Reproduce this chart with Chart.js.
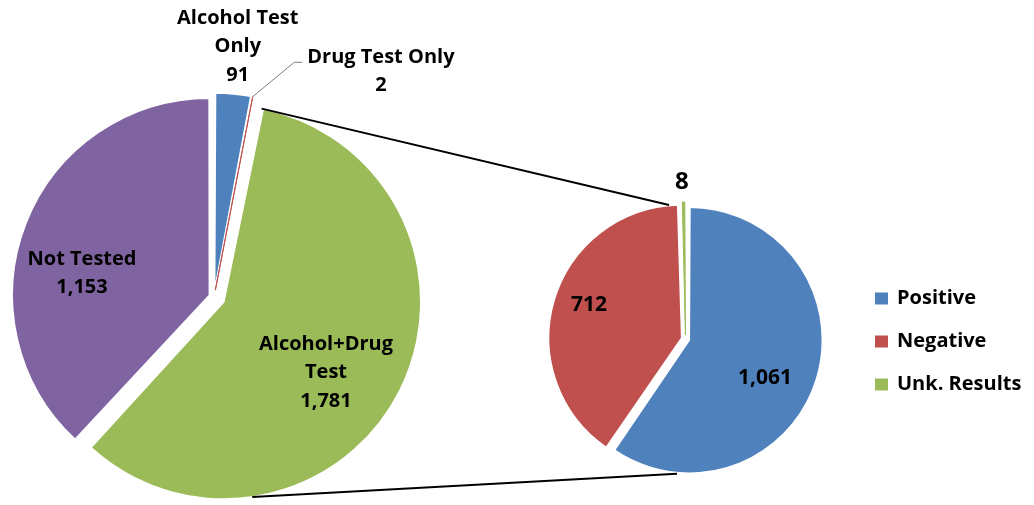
<!DOCTYPE html>
<html>
<head>
<meta charset="utf-8">
<script src="https://cdn.jsdelivr.net/npm/chart.js@4.4.1/dist/chart.umd.min.js"></script>
<style>
    html, body { margin: 0; padding: 0; background: #fff; }
    #wrap { position: relative; width: 1034px; height: 505px; }
    #wrap canvas { position: absolute; left: 0; top: 0; }
</style>
</head>
<body>
<div id="wrap">
    <canvas id="main-pie" width="1034" height="505"></canvas>
    <canvas id="sub-pie" width="1034" height="505"></canvas>
</div>
<script>
// ---- data ----
const mainLabels = ['Alcohol Test Only', 'Drug Test Only', 'Alcohol+Drug Test', 'Not Tested'];
const mainValues = [91, 2, 1781, 1153];
const subLabels  = ['Positive', 'Negative', 'Unk. Results'];
const subValues  = [1061, 712, 8];

// ---- style ----
const mainColors  = ['#4f81bd', '#c0504d', '#9bbb59', '#8064a2'];
const subColors   = ['#4f81bd', '#c0504d', '#9bbb59'];
const mainExplode = [7, 7, 11, 5];   // px the slice is pulled out
const subExplode  = [4, 4, 4];
const MAIN_R = 197, SUB_R = 133;
const FONT_FAMILY = '"Open Sans", "Noto Sans", sans-serif';
const FONT = 'bold 20px ' + FONT_FAMILY;
const LINE_H = 28.5;

// chart.js grows the radius of an offset arc, undo that so every slice keeps the same size
const explodeFix = {
    id: 'explodeFix',
    afterDatasetUpdate(chart, args, opts) {
        args.meta.data.forEach((arc, i) => {
            const e = opts.px[i] || 0;
            const fix = 1 - Math.sin(Math.min(Math.PI, arc.circumference));
            arc.outerRadius = opts.radius - e * fix;
        });
    }
};

function wrapText(ctx, text, maxW) {
    const words = text.split(' ');
    const lines = [];
    let cur = '';
    words.forEach(w => {
        const test = cur ? cur + ' ' + w : w;
        if (cur && ctx.measureText(test).width > maxW) { lines.push(cur); cur = w; }
        else cur = test;
    });
    if (cur) lines.push(cur);
    return lines;
}

function sliceCenter(arc, e) {
    const mid = (arc.startAngle + arc.endAngle) / 2;
    return { x: arc.x + Math.cos(mid) * e, y: arc.y + Math.sin(mid) * e, mid };
}

const sliceLabels = {
    id: 'sliceLabels',
    afterDraw(chart, args, opts) {
        const ctx = chart.ctx;
        const arcs = chart.getDatasetMeta(0).data;
        const values = chart.data.datasets[0].data;
        ctx.save();
        ctx.fillStyle = '#000';
        ctx.textAlign = 'center';
        ctx.textBaseline = 'middle';
        opts.items.forEach(it => {
            ctx.font = 'bold ' + (it.size || 20) + 'px ' + FONT_FAMILY;
            const arc = arcs[it.index];
            const c = sliceCenter(arc, opts.px[it.index]);
            const a = c.mid + it.turn * Math.PI / 180;
            const d = opts.radius * it.frac;
            const px = c.x + Math.cos(a) * d, py = c.y + Math.sin(a) * d;
            const lines = it.wrap ? wrapText(ctx, chart.data.labels[it.index], it.wrap) : [];
            lines.push(Number(values[it.index]).toLocaleString('en-US'));
            const top = py - (lines.length - 1) * LINE_H / 2;
            lines.forEach((t, k) => ctx.fillText(t, px, top + k * LINE_H));
            if (it.leader) {
                const w = Math.max(...lines.map(t => ctx.measureText(t).width));
                const endX = px - w / 2 - 5, endY = top + 5;
                ctx.beginPath();
                ctx.strokeStyle = '#7f7f7f';
                ctx.lineWidth = 1;
                ctx.moveTo(c.x + Math.cos(c.mid) * opts.radius, c.y + Math.sin(c.mid) * opts.radius);
                ctx.lineTo(endX - 8, endY);
                ctx.lineTo(endX, endY);
                ctx.stroke();
            }
        });
        ctx.restore();
    }
};

// connector lines between the exploded slice and the second pie + legend
const pieLinks = {
    id: 'pieLinks',
    afterDraw(chart, args, opts) {
        const ctx = chart.ctx;
        const sub = chart.getDatasetMeta(0).data[0];
        const src = opts.source.getDatasetMeta(0).data[opts.sourceIndex];
        const c = sliceCenter(src, opts.sourceExplode);
        const R = opts.sourceRadius;
        const rr = SUB_R + 2;
        const ta = opts.topAngle * Math.PI / 180, ba = opts.bottomAngle * Math.PI / 180;
        const top = { x: sub.x + Math.cos(ta) * rr, y: sub.y + Math.sin(ta) * rr };
        const bot = { x: sub.x + Math.cos(ba) * rr, y: sub.y + Math.sin(ba) * rr };
        const start = { x: c.x + Math.cos(src.startAngle) * R, y: c.y + Math.sin(src.startAngle) * R };
        const sb = opts.sourceBottomAngle * Math.PI / 180;
        const low = { x: c.x + Math.cos(sb) * R, y: c.y + Math.sin(sb) * R };

        ctx.save();
        ctx.strokeStyle = '#000';
        ctx.lineWidth = 2;
        ctx.beginPath();
        ctx.moveTo(start.x, start.y); ctx.lineTo(top.x, top.y);
        ctx.moveTo(low.x, low.y); ctx.lineTo(bot.x, bot.y);
        ctx.stroke();

        // legend
        ctx.font = FONT;
        ctx.textAlign = 'left';
        ctx.textBaseline = 'middle';
        chart.data.labels.forEach((lab, i) => {
            const y = opts.legendY + i * opts.legendGap;
            ctx.fillStyle = chart.data.datasets[0].backgroundColor[i];
            ctx.fillRect(opts.legendX, y - 6, 13, 12);
            ctx.fillStyle = '#000';
            ctx.fillText(lab, opts.legendX + 22, y);
        });
        ctx.restore();
    }
};

const mainChart = new Chart(document.getElementById('main-pie'), {
    type: 'pie',
    data: {
        labels: mainLabels,
        datasets: [{
            data: mainValues,
            backgroundColor: mainColors,
            borderColor: ['#fff', '#c0504d', '#fff', '#fff'],
            borderWidth: [1.5, 1, 1.5, 1.5],
            offset: mainExplode.map(v => v * 4),
            hoverOffset: 0,
            radius: MAIN_R
        }]
    },
    options: {
        responsive: false,
        animation: false,
        events: [],
        radius: MAIN_R,
        layout: { padding: { left: 0, right: 606, top: 89, bottom: 0 } },
        plugins: {
            legend: { display: false },
            tooltip: { enabled: false },
            explodeFix: { px: mainExplode, radius: MAIN_R },
            sliceLabels: {
                px: mainExplode, radius: MAIN_R,
                items: [
                    { index: 0, frac: 1.242, turn: 0,     wrap: 130 },
                    { index: 1, frac: 1.392, turn: 26.2,  wrap: 170, leader: true },
                    { index: 2, frac: 0.63,  turn: 7.6,   wrap: 125 },
                    { index: 3, frac: 0.656, turn: -11.6, wrap: 130 }
                ]
            }
        }
    },
    plugins: [explodeFix, sliceLabels]
});

const subChart = new Chart(document.getElementById('sub-pie'), {
    type: 'pie',
    data: {
        labels: subLabels,
        datasets: [{
            data: subValues,
            backgroundColor: subColors,
            borderColor: ['#fff', '#fff', '#9bbb59'],
            borderWidth: [1.5, 1.5, 1],
            offset: subExplode.map(v => v * 4),
            hoverOffset: 0,
            radius: SUB_R
        }]
    },
    options: {
        responsive: false,
        animation: false,
        events: [],
        radius: SUB_R,
        layout: { padding: { left: 337, right: 0, top: 173, bottom: 0 } },
        plugins: {
            legend: { display: false },
            tooltip: { enabled: false },
            explodeFix: { px: subExplode, radius: SUB_R },
            sliceLabels: {
                px: subExplode, radius: SUB_R,
                items: [
                    { index: 0, frac: 0.636, turn: 9.3,  size: 21 },
                    { index: 1, frac: 0.74,  turn: 3.1,  size: 21 },
                    { index: 2, frac: 1.15,  turn: -0.5, size: 24 }
                ]
            },
            pieLinks: {
                sourceIndex: 2, sourceExplode: mainExplode[2], sourceRadius: MAIN_R,
                sourceBottomAngle: 81.7,
                topAngle: -97, bottomAngle: 93.6,
                legendX: 875, legendY: 298.5, legendGap: 43
            }
        }
    },
    plugins: [explodeFix, sliceLabels, {
        id: 'pieLinksWrap',
        afterDraw(chart, args) {
            pieLinks.afterDraw(chart, args, Object.assign({}, chart.options.plugins.pieLinks, { source: mainChart }));
        }
    }]
});
</script>
</body>
</html>
